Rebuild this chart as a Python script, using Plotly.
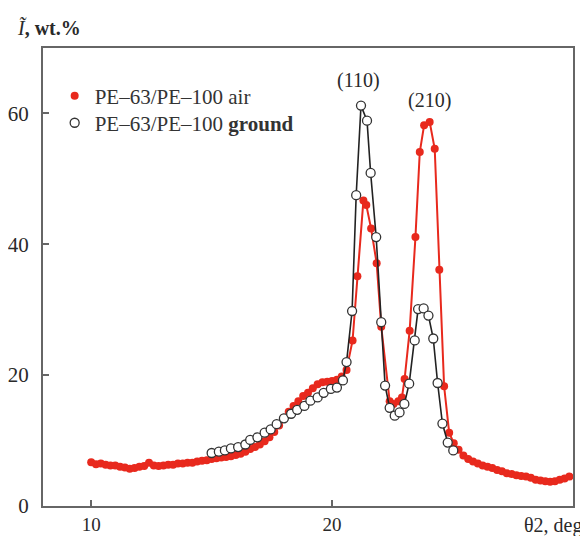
import plotly.graph_objects as go

# PE-63/PE-100 air (red, filled)
air_x = [10.0, 10.2, 10.4, 10.6, 10.8, 11.0, 11.2, 11.4, 11.6, 11.8,
         12.0, 12.2, 12.4, 12.6, 12.8, 13.0, 13.2, 13.4, 13.6, 13.8,
         14.0, 14.2, 14.4, 14.6, 14.8, 15.0, 15.2, 15.4, 15.6, 15.8,
         16.0, 16.2, 16.4, 16.6, 16.8, 17.0, 17.2, 17.4, 17.6, 17.8,
         18.0, 18.2, 18.4, 18.6, 18.8, 19.0, 19.2, 19.4, 19.6, 19.8,
         20.0, 20.2, 20.4, 20.6, 20.85, 21.05, 21.3, 21.42, 21.62, 21.85,
         22.04, 22.39, 22.55, 22.75, 22.9, 23.01, 23.22, 23.46, 23.64, 23.82,
         24.05, 24.26, 24.45, 24.65, 24.86, 25.05, 25.25, 25.45, 25.65, 25.85,
         26.05, 26.25, 26.45, 26.65, 26.85, 27.05, 27.25, 27.45, 27.65, 27.85,
         28.05, 28.25, 28.45, 28.65, 28.85, 29.05, 29.25, 29.45, 29.65, 29.85]
air_y = [6.7, 6.4, 6.5, 6.3, 6.2, 6.2, 6.0, 5.9, 5.7, 5.8,
         6.0, 6.1, 6.6, 6.2, 6.1, 6.2, 6.3, 6.3, 6.5, 6.5,
         6.6, 6.6, 6.8, 6.9, 7.0, 7.2, 7.3, 7.4, 7.5, 7.6,
         7.8, 8.0, 8.3, 8.7, 9.0, 9.4, 9.9, 10.5, 11.3, 12.3,
         13.5, 14.4, 15.3, 16.0, 16.8, 17.3, 18.0, 18.6, 18.9, 19.0,
         19.1, 19.3, 19.8, 20.8, 25.3, 35.1, 46.7, 46.0, 42.4, 37.1,
         27.4, 16.0, 15.6, 16.0, 16.6, 19.4, 26.8, 41.1, 54.1, 58.2,
         58.7, 54.6, 36.1, 18.3, 11.2, 9.6, 8.6, 7.7, 7.2, 6.8,
         6.5, 6.2, 6.0, 5.8, 5.5, 5.3, 5.0, 4.9, 4.7, 4.6,
         4.5, 4.3, 4.0, 3.9, 3.8, 3.7, 3.8, 4.0, 4.2, 4.5]

# PE-63/PE-100 ground (open circles)
ground_x = [15.0, 15.3, 15.55, 15.8, 16.1, 16.4, 16.6, 16.9, 17.2, 17.45,
            17.7, 18.0, 18.3, 18.55, 18.85, 19.1, 19.4, 19.65, 19.95, 20.2,
            20.45, 20.6, 20.83, 21.0, 21.2, 21.45, 21.6, 21.83, 22.04, 22.2,
            22.39, 22.6, 22.8, 23.0, 23.2, 23.43, 23.57, 23.8, 24.0, 24.2,
            24.38, 24.58, 24.8, 25.03]
ground_y = [8.1, 8.3, 8.5, 8.8, 9.0, 9.4, 10.1, 10.5, 11.2, 11.7,
            12.5, 13.4, 14.1, 14.7, 15.3, 16.1, 16.6, 17.3, 17.9, 18.1,
            19.2, 22.0, 29.8, 47.5, 61.2, 58.9, 50.9, 41.1, 28.1, 18.4,
            15.0, 13.8, 14.3, 15.6, 18.7, 25.3, 30.1, 30.2, 29.1, 25.6,
            18.8, 12.6, 9.7, 8.5]

x_ticks = [10, 20]
y_ticks = [0, 20, 40, 60]
peak_labels = ["(110)", "(210)"]
peak_pos_x = [21.08, 24.04]
peak_pos_y = [65.1, 62.0]

serif = "Liberation Serif, Times New Roman, serif"
RED = "#e8291d"
TXT = "#2a2a2a"

fig = go.Figure()
# red series: line then markers
fig.add_trace(go.Scatter(x=air_x, y=air_y, mode="lines", showlegend=False,
                         line=dict(color=RED, width=2), hoverinfo="skip"))
fig.add_trace(go.Scatter(x=air_x, y=air_y, mode="markers",
                         name="PE–63/PE–100 air", legend="legend",
                         marker=dict(color=RED, size=8, line=dict(width=0))))
# ground series: line then open markers
fig.add_trace(go.Scatter(x=ground_x, y=ground_y, mode="lines", showlegend=False,
                         line=dict(color="#222222", width=1.6), hoverinfo="skip"))
fig.add_trace(go.Scatter(x=ground_x, y=ground_y, mode="markers",
                         name="PE–63/PE–100 <b>ground</b>", legend="legend2",
                         marker=dict(color="white", size=9,
                                     line=dict(color="#333333", width=1.3))))

for t, px, py in zip(peak_labels, peak_pos_x, peak_pos_y):
    fig.add_annotation(x=px, y=py, text=t, showarrow=False,
                       font=dict(family=serif, size=20, color=TXT),
                       xanchor="center", yanchor="middle")

fig.add_annotation(xref="paper", yref="paper", x=-0.053, y=1.044,
                   text="<i>Ĩ</i><b>, wt.%</b>", showarrow=False,
                   font=dict(family=serif, size=20, color=TXT),
                   xanchor="left", yanchor="middle")
fig.add_annotation(xref="paper", yref="paper", x=0.904, y=-0.0415,
                   text="θ2, deg", showarrow=False,
                   font=dict(family=serif, size=20, color=TXT),
                   xanchor="left", yanchor="middle")

leg_common = dict(xanchor="left", yanchor="middle", bgcolor="rgba(255,255,255,0)",
                  font=dict(family=serif, size=21, color="#333"),
                  borderwidth=0)

# page has an 8px body margin: figure is 580x528 so it ends at 588x536
fig.update_layout(
    width=580, height=528,
    margin=dict(l=35, r=15, t=40, b=30),
    paper_bgcolor="white", plot_bgcolor="white",
    showlegend=True,
    legend=dict(x=0.022, y=0.895, **leg_common),
    legend2=dict(x=0.022, y=0.836, **leg_common),
    font=dict(family=serif, size=20, color=TXT),
)
fig.update_xaxes(range=[8, 30], tickvals=x_ticks, ticks="inside", ticklen=6,
                 tickcolor="#666", tickwidth=1.5, automargin=False,
                 showline=True, linecolor="#666", linewidth=2, mirror=True,
                 showgrid=False, zeroline=False, ticklabelstandoff=0,
                 tickfont=dict(family=serif, size=19, color=TXT))
fig.update_yaxes(range=[0, 70], tickvals=y_ticks, ticks="inside", ticklen=6,
                 tickcolor="#666", tickwidth=1.5, automargin=False,
                 showline=True, linecolor="#666", linewidth=2, mirror=True,
                 showgrid=False, zeroline=False, ticklabelstandoff=8,
                 tickfont=dict(family=serif, size=21, color=TXT))

fig.write_html("out.html")
